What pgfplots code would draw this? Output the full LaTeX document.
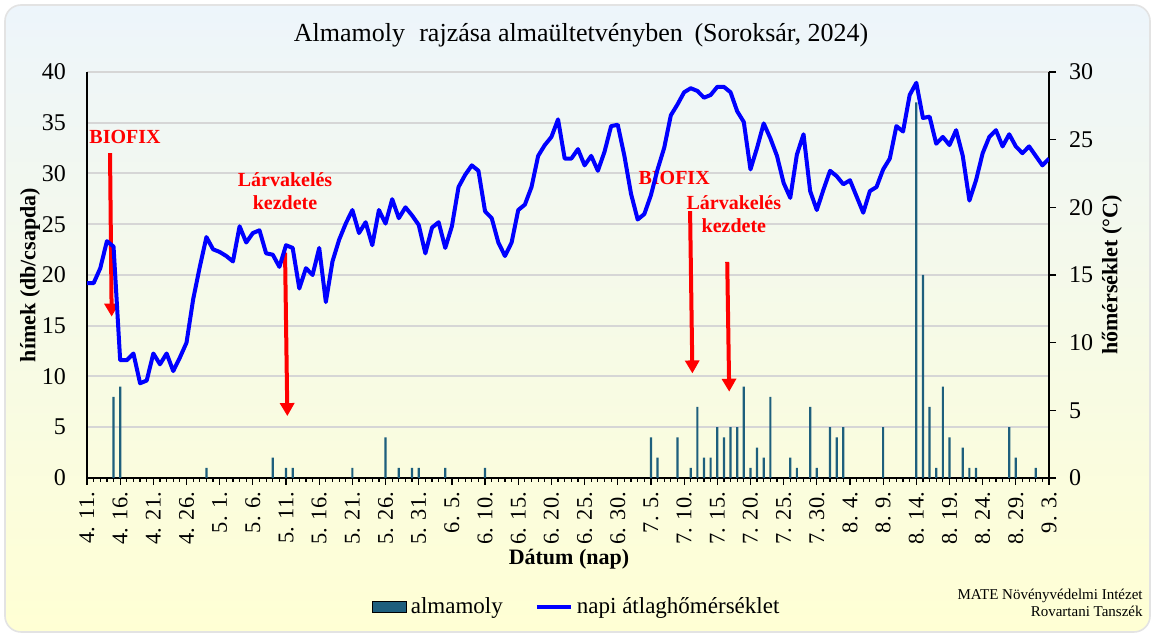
\documentclass[border=0pt]{standalone}
\usepackage{fontspec}
\setmainfont{Liberation Serif}
\usepackage{pgfplots}
\pgfplotsset{compat=1.18}
\usetikzlibrary{arrows.meta}
\definecolor{barcol}{RGB}{30,95,125}
\definecolor{gridc}{RGB}{214,214,214}
\definecolor{bgtop}{RGB}{237,245,251}
\definecolor{bgbot}{RGB}{255,255,212}
\definecolor{linec}{RGB}{0,0,255}
\definecolor{anno}{RGB}{255,0,0}

\pgfplotstableread{
day val
4 8
5 9
18 1
28 2
30 1
31 1
40 1
45 4
47 1
49 1
50 1
54 1
60 1
85 4
86 2
89 4
91 1
92 7
93 2
94 2
95 5
96 4
97 5
98 5
99 9
100 1
101 3
102 2
103 8
106 2
107 1
109 7
110 1
112 5
113 4
114 5
120 5
125 37
126 20
127 7
128 1
129 9
130 4
132 3
133 1
134 1
139 5
140 2
143 1
}\bars

\pgfplotstableread{
day t
0 14.4
1 14.4
2 15.5
3 17.5
4 17.1
5 8.7
6 8.7
7 9.2
8 7.0
9 7.2
10 9.2
11 8.4
12 9.2
13 7.9
14 8.9
15 10.0
16 13.2
17 15.6
18 17.8
19 16.9
20 16.7
21 16.4
22 16.0
23 18.6
24 17.4
25 18.1
26 18.3
27 16.6
28 16.5
29 15.6
30 17.2
31 17.0
32 14.0
33 15.5
34 15.0
35 17.0
36 13.0
37 16.0
38 17.6
39 18.8
40 19.8
41 18.1
42 18.9
43 17.2
44 19.8
45 18.8
46 20.6
47 19.2
48 20.0
49 19.4
50 18.7
51 16.6
52 18.5
53 18.9
54 17.0
55 18.6
56 21.5
57 22.4
58 23.1
59 22.7
60 19.7
61 19.2
62 17.4
63 16.4
64 17.4
65 19.8
66 20.2
67 21.5
68 23.8
69 24.6
70 25.2
71 26.5
72 23.6
73 23.6
74 24.3
75 23.1
76 23.8
77 22.7
78 24.1
79 26.0
80 26.1
81 23.8
82 21.0
83 19.1
84 19.5
85 20.9
86 22.8
87 24.4
88 26.8
89 27.6
90 28.5
91 28.8
92 28.6
93 28.1
94 28.3
95 28.9
96 28.9
97 28.5
98 27.1
99 26.3
100 22.8
101 24.4
102 26.2
103 25.1
104 23.8
105 21.8
106 20.7
107 23.9
108 25.4
109 21.2
110 19.8
111 21.3
112 22.7
113 22.3
114 21.7
115 22.0
116 20.8
117 19.6
118 21.2
119 21.5
120 22.8
121 23.6
122 26.0
123 25.6
124 28.3
125 29.2
126 26.6
127 26.7
128 24.7
129 25.2
130 24.6
131 25.7
132 23.8
133 20.5
134 22.0
135 24.0
136 25.2
137 25.7
138 24.5
139 25.4
140 24.5
141 24.0
142 24.5
143 23.8
144 23.1
145 23.6
}\temps

\pgfplotsset{
  base/.style={
    at={(43.5pt,78.5pt)}, anchor=south west,
    scale only axis, width=481pt, height=203pt,
    xmin=0, xmax=145,
    /pgf/number format/assume math mode=true,
    tick align=outside,
    major tick length=3.5pt, minor tick length=2pt,
    axis line style={black, line width=0.75pt},
    ticklabel style={font=\fontsize{12}{14}\selectfont},
    label style={font=\bfseries\fontsize{11}{13}\selectfont},
  }
}

\begin{document}
\begin{tikzpicture}
\useasboundingbox (0,0) rectangle (576pt,317.5pt);
\fill[white] (0,0) rectangle (576pt,317.5pt);
\shade[top color=bgtop, bottom color=bgbot, rounded corners=8pt] (2.5pt,1.5pt) rectangle (575pt,315pt);
\draw[gray!22, line width=0.8pt, rounded corners=8pt] (2.5pt,1.5pt) rectangle (575pt,315pt);

\begin{axis}[base,
  ymin=0, ymax=40,
  axis x line*=bottom, axis y line*=left,
  xtick={0,5,...,145}, minor x tick num=4,
  xticklabels={4. 11.,4. 16.,4. 21.,4. 26.,5. 1.,5. 6.,5. 11.,5. 16.,5. 21.,5. 26.,5. 31.,6. 5.,6. 10.,6. 15.,6. 20.,6. 25.,6. 30.,7. 5.,7. 10.,7. 15.,7. 20.,7. 25.,7. 30.,8. 4.,8. 9.,8. 14.,8. 19.,8. 24.,8. 29.,9. 3.},
  xticklabel style={rotate=90, anchor=east, font=\fontsize{11.2}{13}\selectfont},
  x tick style={black, line width=0.6pt},
  ytick={0,5,...,40},
  y tick style={draw=none},
  yticklabel style={xshift=-3.5pt},
  ymajorgrids, grid style={gridc, line width=1pt},
  xlabel={Dátum (nap)},
  xlabel style={at={(axis description cs:0.501,-0.2)}, anchor=center},
  ylabel={hímek (db/csapda)},
  ylabel style={at={(axis description cs:-0.0593,0.5)}, anchor=center, rotate=0},
]
\addplot[ybar, bar width=1.1pt, fill=barcol, draw=none] table[x=day, y=val] {\bars};

\draw[anno, line width=2pt, -{Triangle[width=7pt,length=6.5pt]}] (axis cs:3.47,32.0) -- (axis cs:3.72,15.9);
\draw[anno, line width=2pt, -{Triangle[width=7pt,length=6.5pt]}] (axis cs:29.85,22.2) -- (axis cs:30.2,6.1);
\draw[anno, line width=2pt, -{Triangle[width=7pt,length=6.5pt]}] (axis cs:90.9,26.3) -- (axis cs:91.25,10.3);
\draw[anno, line width=2pt, -{Triangle[width=7pt,length=6.5pt]}] (axis cs:96.5,21.3) -- (axis cs:96.8,8.5);
\node[anno, font=\bfseries\fontsize{10}{11.5}\selectfont] at (axis cs:5.73,33.56) {BIOFIX};
\node[anno, font=\bfseries\fontsize{10}{11.5}\selectfont, align=center] at (axis cs:29.85,28.25) {Lárvakelés\\kezdete};
\node[anno, font=\bfseries\fontsize{10}{11.5}\selectfont] at (axis cs:88.5,29.6) {BIOFIX};
\node[anno, font=\bfseries\fontsize{10}{11.5}\selectfont, align=center] at (axis cs:97.5,26.0) {Lárvakelés\\kezdete};
\end{axis}

\begin{axis}[base,
  ymin=0, ymax=30,
  axis x line=none, axis y line*=right,
  ytick={0,5,...,30},
  y tick style={black, line width=0.6pt},
  yticklabel style={xshift=3pt},
  ylabel={hőmérséklet (°C)},
  ylabel style={at={(axis description cs:1.0655,0.5)}, anchor=center, rotate=0},
  legend style={at={(0.51,-0.318)}, anchor=center, draw=none, fill=none,
    legend columns=2, font=\fontsize{11.5}{13}\selectfont,
    /tikz/every even column/.append style={column sep=14pt}},
]
\addlegendimage{area legend, fill=barcol, draw=none}
\addlegendentry{almamoly}
\addplot[linec, line width=2pt, line join=round, mark=none] table[x=day, y=t] {\temps};
\addlegendentry{napi átlaghőmérséklet}
\end{axis}

\node[font=\fontsize{13}{15}\selectfont] at (290.5pt,300pt) {Almamoly\hspace{0.3em} rajzása almaültetvényben\hspace{0.2em} (Soroksár, 2024)};
\node[anchor=east, align=right, font=\fontsize{7.5}{8.5}\selectfont, inner sep=0pt] at (571.5pt,16.25pt) {MATE Növényvédelmi Intézet\\Rovartani Tanszék};
\end{tikzpicture}
\end{document}
